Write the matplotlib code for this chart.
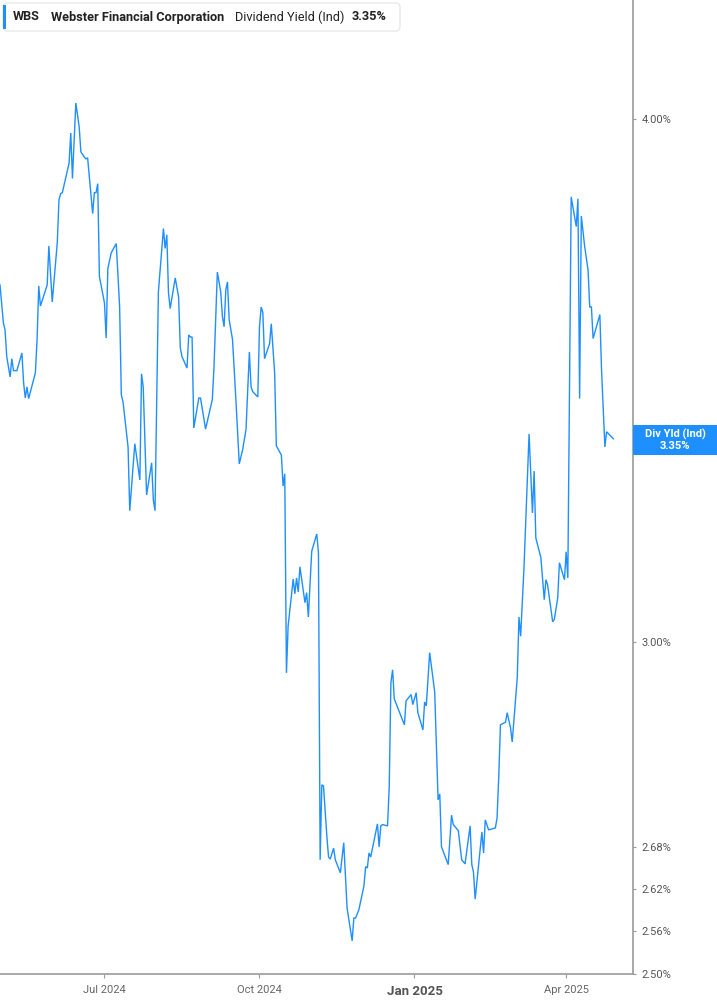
import numpy as np
import pandas as pd
import matplotlib
matplotlib.use('Agg')
import matplotlib.pyplot as plt
from matplotlib.patches import FancyBboxPatch, Rectangle
from matplotlib.ticker import NullLocator

plt.rcParams['font.family'] = ['Roboto', 'DejaVu Sans']

# days since 2024-04-30 and dividend yield (%)
start = pd.Timestamp('2024-04-30')
days = [0, 2, 3, 4, 6, 7, 8, 10, 13, 14,
        15, 16, 17, 21, 22, 23, 24, 28, 29, 31,
        34, 35, 36, 37, 41, 42, 43, 45, 47, 48,
        50, 51, 52, 55, 56, 57, 58, 59, 62, 63,
        64, 66, 69, 71, 72, 73, 76, 77, 80, 83,
        84, 85, 87, 90, 91, 92, 94, 97, 98, 99,
        100, 101, 104, 106, 107, 108, 111, 112, 113, 114,
        115, 118, 119, 122, 126, 127, 129, 131, 132, 133,
        134, 135, 136, 138, 140, 142, 144, 146, 148, 149,
        150, 153, 154, 155, 156, 157, 160, 161, 163, 164,
        167, 168, 169, 170, 171, 174, 175, 176, 177, 178,
        181, 182, 183, 185, 188, 189, 190, 191, 192, 194,
        195, 196, 198, 199, 202, 204, 206, 209, 210, 211,
        213, 216, 217, 218, 219, 220, 224, 225, 226, 227,
        230, 231, 232, 233, 234, 240, 241, 244, 245, 247,
        248, 251, 252, 253, 255, 258, 259, 260, 261, 262,
        266, 268, 269, 272, 274, 276, 279, 280, 281, 282,
        286, 287, 288, 290, 294, 295, 296, 297, 300, 301,
        303, 304, 307, 308, 309, 311, 314, 316, 317, 318,
        321, 323, 324, 325, 328, 329, 331, 332, 335, 336,
        337, 339, 342, 343, 344, 345, 347, 349, 350, 351,
        352, 356, 357, 359, 360, 364]
yld = [3.651, 3.576, 3.562, 3.510, 3.471, 3.506, 3.483, 3.483, 3.517, 3.460,
       3.431, 3.452, 3.430, 3.479, 3.543, 3.649, 3.609, 3.651, 3.730, 3.617,
       3.737, 3.826, 3.839, 3.841, 3.904, 3.969, 3.871, 4.035, 3.982, 3.928,
       3.917, 3.913, 3.915, 3.797, 3.841, 3.841, 3.860, 3.668, 3.615, 3.546,
       3.684, 3.716, 3.735, 3.607, 3.437, 3.424, 3.340, 3.225, 3.346, 3.280,
       3.477, 3.452, 3.253, 3.311, 3.244, 3.225, 3.637, 3.766, 3.725, 3.753,
       3.635, 3.604, 3.665, 3.627, 3.527, 3.510, 3.488, 3.552, 3.548, 3.548,
       3.375, 3.431, 3.431, 3.373, 3.428, 3.490, 3.677, 3.637, 3.588, 3.568,
       3.641, 3.657, 3.582, 3.543, 3.428, 3.309, 3.335, 3.372, 3.519, 3.452,
       3.443, 3.433, 3.568, 3.607, 3.596, 3.506, 3.535, 3.574, 3.479, 3.342,
       3.325, 3.269, 3.291, 2.950, 3.027, 3.106, 3.081, 3.108, 3.084, 3.127,
       3.066, 3.083, 3.042, 3.154, 3.184, 3.151, 2.662, 2.774, 2.772, 2.696,
       2.666, 2.663, 2.679, 2.662, 2.643, 2.687, 2.592, 2.546, 2.578, 2.578,
       2.590, 2.624, 2.652, 2.650, 2.672, 2.666, 2.715, 2.681, 2.712, 2.714,
       2.712, 2.771, 2.934, 2.955, 2.908, 2.867, 2.905, 2.915, 2.899, 2.918,
       2.886, 2.859, 2.903, 2.897, 2.983, 2.919, 2.832, 2.751, 2.760, 2.681,
       2.655, 2.728, 2.714, 2.705, 2.662, 2.656, 2.712, 2.655, 2.644, 2.605,
       2.703, 2.672, 2.721, 2.706, 2.709, 2.724, 2.786, 2.867, 2.871, 2.886,
       2.862, 2.840, 2.943, 3.042, 3.010, 3.127, 3.364, 3.221, 3.296, 3.177,
       3.143, 3.071, 3.105, 3.096, 3.034, 3.038, 3.074, 3.134, 3.105, 3.153,
       3.108, 3.832, 3.770, 3.828, 3.430, 3.792, 3.729, 3.681, 3.607, 3.607,
       3.545, 3.592, 3.485, 3.340, 3.368, 3.355]

ytick_vals = [2.50, 2.56, 2.62, 2.68, 3.00, 4.00]
xtick_dates = ['2024-07-01', '2024-10-01', '2025-01-01', '2025-04-01']
xtick_labels = ['Jul 2024', 'Oct 2024', 'Jan 2025', 'Apr 2025']

dates = start + pd.to_timedelta(days, unit='D')

blue = '#1e8fff'
grey = '#9a9a9a'
W, H = 717, 1005

fig = plt.figure(figsize=(W / 100, H / 100), dpi=100)
ax = fig.add_axes([0, 31 / H, 632.7 / W, 974 / H])

ax.plot(dates, yld, color=blue, lw=1.0, solid_joinstyle='miter')

ax.set_yscale('log')
ax.set_ylim(2.50, 4.27)
ax.set_xlim(start, start + pd.Timedelta(days=375.5))

ax.yaxis.tick_right()
ax.set_yticks(ytick_vals)
ax.set_yticklabels(['%.2f%%' % v for v in ytick_vals])
ax.yaxis.set_minor_locator(NullLocator())
ax.tick_params(axis='y', which='major', length=2.5, width=0.8, color=grey,
               labelsize=8, labelcolor='#555555', pad=4)

ax.set_xticks(pd.to_datetime(xtick_dates))
ax.set_xticklabels(xtick_labels)
ax.tick_params(axis='x', length=3, width=0.8, color=grey,
               labelsize=8, labelcolor='#666666', pad=5)
for lab in ax.get_xticklabels():
    if lab.get_text().startswith('Jan'):
        lab.set_fontweight('bold')
        lab.set_fontsize(9.5)
        lab.set_color('#555555')

for s in ['top', 'left']:
    ax.spines[s].set_visible(False)
for s in ['right', 'bottom']:
    ax.spines[s].set_color(grey)
    ax.spines[s].set_linewidth(1.2)

# header box
hdr = FancyBboxPatch((3 / W, 1 - 31 / H), 397 / W, 28 / H,
                     boxstyle='round,pad=0,rounding_size=0.006',
                     mutation_aspect=W / H, transform=fig.transFigure,
                     facecolor='white', edgecolor='#e4e4e4', lw=0.8)
fig.add_artist(hdr)
fig.add_artist(Rectangle((3 / W, 1 - 29 / H), 3 / W, 24 / H,
                         transform=fig.transFigure, color=blue, lw=0))
ty = 1 - 17 / H
fig.text(13 / W, ty, 'WBS', fontsize=9.2, fontweight='bold', color='#222222', va='center')
fig.text(51 / W, ty, 'Webster Financial Corporation', fontsize=9.2,
         fontweight='bold', color='#222222', va='center')
fig.text(235 / W, ty, 'Dividend Yield (Ind)', fontsize=9.2, color='#222222', va='center')
fig.text(352 / W, ty, '3.35%', fontsize=9.2, fontweight='bold', color='#222222', va='center')

# last value label on the right axis
fig.add_artist(Rectangle((633 / W, 1 - 455 / H), 84 / W, 30 / H,
                         transform=fig.transFigure, color=blue, lw=0))
fig.text(675 / W, 1 - 434 / H, 'Div Yld (Ind)', fontsize=8, fontweight='bold',
         color='white', ha='center', va='center')
fig.text(675 / W, 1 - 446 / H, '3.35%', fontsize=8, fontweight='bold',
         color='white', ha='center', va='center')

fig.savefig('out.png', dpi=100)
